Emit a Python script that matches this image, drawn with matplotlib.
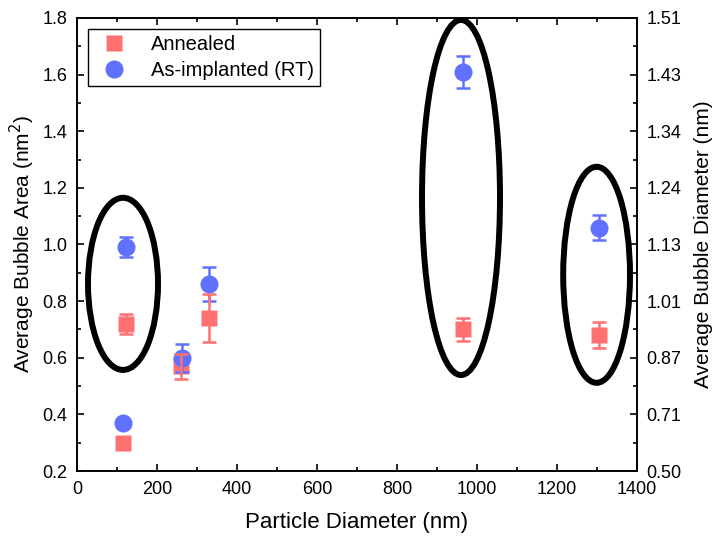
import matplotlib
matplotlib.use("Agg")

import numpy as np
from matplotlib import pyplot as plt
from matplotlib.patches import Ellipse
from matplotlib.ticker import MultipleLocator

plt.rcParams['font.family'] = ['Liberation Sans', 'DejaVu Sans']

# annealed samples
ann_x = [115, 122, 260, 330, 965, 1305]
ann_y = [0.30, 0.72, 0.57, 0.74, 0.70, 0.68]
ann_err = [0.01, 0.035, 0.045, 0.085, 0.04, 0.045]

# as-implanted (RT)
rt_x = [115, 122, 262, 330, 965, 1305]
rt_y = [0.37, 0.99, 0.60, 0.86, 1.61, 1.06]
rt_err = [0.01, 0.035, 0.05, 0.06, 0.057, 0.045]

left_ticks = [0.2, 0.4, 0.6, 0.8, 1.0, 1.2, 1.4, 1.6, 1.8]
right_labels = ['0.50', '0.71', '0.87', '1.01', '1.13', '1.24', '1.34', '1.43', '1.51']

red = '#ff7070'
blue = '#6070ff'

fig = plt.figure(figsize=(7.15, 5.37), dpi=100)
ax = fig.add_axes([0.1077, 0.1229, 0.7832, 0.8436])

# markers first, error bars on top (like the original)
ax.plot(ann_x, ann_y, 's', color=red, ms=11, mec='none', zorder=3, label='Annealed')
ax.plot(rt_x, rt_y, 'o', color=blue, ms=13, mec='none', zorder=3, label='As-implanted (RT)')
ax.errorbar(rt_x, rt_y, yerr=rt_err, fmt='none', ecolor=blue, elinewidth=1.8,
            capsize=5, capthick=1.8, zorder=4)
ax.errorbar(ann_x, ann_y, yerr=ann_err, fmt='none', ecolor=red, elinewidth=1.8,
            capsize=5, capthick=1.8, zorder=4)

# highlight ellipses
for cx, cy, w, h in [(115, 0.861, 175, 0.608), (960, 1.166, 195, 1.254), (1299, 0.893, 167, 0.763)]:
    e = Ellipse((cx, cy), w, h, fill=False, ec='black', lw=4.3, zorder=5, clip_on=False)
    ax.add_patch(e)

ax.set_xlim(0, 1400)
ax.set_ylim(0.2, 1.8)
ax.xaxis.set_major_locator(MultipleLocator(200))
ax.xaxis.set_minor_locator(MultipleLocator(100))
ax.set_yticks(left_ticks)
ax.yaxis.set_minor_locator(MultipleLocator(0.1))
ax.tick_params(which='both', direction='in', top=True, labelsize=13, pad=7)
ax.tick_params(which='major', length=5, width=1.2)
ax.tick_params(which='minor', length=3, width=1.2)
ax.set_xlabel('Particle Diameter (nm)', fontsize=16, labelpad=10)
ax.set_ylabel('Average Bubble Area (nm$^2$)', fontsize=15, labelpad=4)

ax2 = ax.twinx()
ax2.set_ylim(0.2, 1.8)
ax2.set_yticks(left_ticks)
ax2.set_yticklabels(right_labels)
ax2.yaxis.set_minor_locator(MultipleLocator(0.1))
ax2.tick_params(which='both', direction='in', labelsize=13, pad=7)
ax2.tick_params(which='major', length=5, width=1.2)
ax2.tick_params(which='minor', length=3, width=1.2)
ax2.set_ylabel('Average Bubble Diameter (nm)', fontsize=15, labelpad=9)

for a in (ax, ax2):
    for s in a.spines.values():
        s.set_linewidth(1.2)

leg = ax.legend(loc='upper left', fontsize=14.5, fancybox=False, edgecolor='black',
                framealpha=1, borderaxespad=0.55, handletextpad=0.8, borderpad=0.3,
                labelspacing=0.35)
leg.get_frame().set_linewidth(1.0)
leg.set_zorder(6)

fig.savefig('out.png', dpi=100)
